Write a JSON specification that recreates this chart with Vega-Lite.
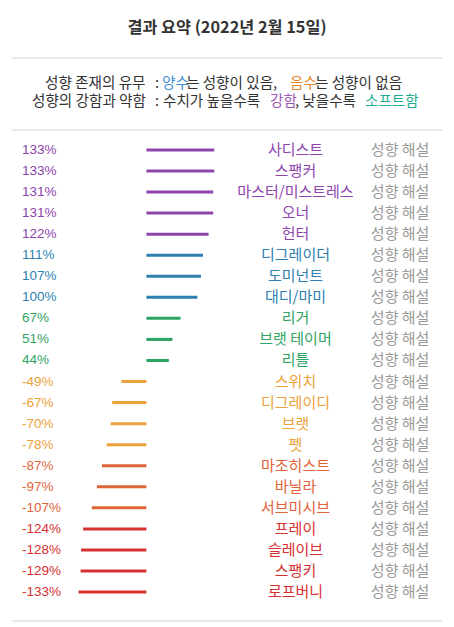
{
  "$schema": "https://vega.github.io/schema/vega-lite/v6.json",
  "padding": 0,
  "spacing": 0,
  "background": "white",
  "config": {"view": {"stroke": null}},
  "vconcat": [
    {
      "width": 454,
      "height": 131,
      "data": {"values": [{}]},
      "layer": [
        {
          "mark": {"type": "text", "text": "결과 요약 (2022년 2월 15일)", "font": "Noto Sans CJK KR", "fontSize": 16.3, "fontWeight": "bold", "color": "#333333", "align": "center", "baseline": "middle"},
          "encoding": {
            "x": {"datum": 227, "type": "quantitative", "scale": {"domain": [0, 454], "nice": false}, "axis": null},
            "y": {"datum": 28, "type": "quantitative", "scale": {"domain": [0, 131], "nice": false, "reverse": true}, "axis": null}
          }
        },
        {
          "mark": {"type": "rule", "color": "#e9e9e9", "strokeWidth": 2},
          "encoding": {
            "x": {"datum": 12, "type": "quantitative"},
            "x2": {"datum": 442},
            "y": {"datum": 58, "type": "quantitative"}
          }
        },
        {
          "mark": {"type": "text", "text": "성향 존재의 유무", "font": "Noto Sans CJK KR", "fontSize": 14.6, "color": "#333333", "align": "left", "baseline": "middle"},
          "encoding": {"x": {"datum": 45, "type": "quantitative"}, "y": {"datum": 84, "type": "quantitative"}}
        },
        {
          "mark": {"type": "text", "text": ":", "font": "Noto Sans CJK KR", "fontSize": 14.6, "color": "#333333", "align": "left", "baseline": "middle"},
          "encoding": {"x": {"datum": 155, "type": "quantitative"}, "y": {"datum": 84, "type": "quantitative"}}
        },
        {
          "mark": {"type": "text", "text": "양수", "font": "Noto Sans CJK KR", "fontSize": 14.6, "color": "#3f8fd2", "align": "left", "baseline": "middle"},
          "encoding": {"x": {"datum": 162, "type": "quantitative"}, "y": {"datum": 84, "type": "quantitative"}}
        },
        {
          "mark": {"type": "text", "text": "는 성향이 있음,", "font": "Noto Sans CJK KR", "fontSize": 14.6, "color": "#333333", "align": "left", "baseline": "middle"},
          "encoding": {"x": {"datum": 186, "type": "quantitative"}, "y": {"datum": 84, "type": "quantitative"}}
        },
        {
          "mark": {"type": "text", "text": "음수", "font": "Noto Sans CJK KR", "fontSize": 14.6, "color": "#e8892c", "align": "left", "baseline": "middle"},
          "encoding": {"x": {"datum": 290, "type": "quantitative"}, "y": {"datum": 84, "type": "quantitative"}}
        },
        {
          "mark": {"type": "text", "text": "는 성향이 없음", "font": "Noto Sans CJK KR", "fontSize": 14.6, "color": "#333333", "align": "left", "baseline": "middle"},
          "encoding": {"x": {"datum": 315, "type": "quantitative"}, "y": {"datum": 84, "type": "quantitative"}}
        },
        {
          "mark": {"type": "text", "text": "성향의 강함과 약함", "font": "Noto Sans CJK KR", "fontSize": 14.6, "color": "#333333", "align": "left", "baseline": "middle"},
          "encoding": {"x": {"datum": 32, "type": "quantitative"}, "y": {"datum": 101.5, "type": "quantitative"}}
        },
        {
          "mark": {"type": "text", "text": ":", "font": "Noto Sans CJK KR", "fontSize": 14.6, "color": "#333333", "align": "left", "baseline": "middle"},
          "encoding": {"x": {"datum": 155, "type": "quantitative"}, "y": {"datum": 101.5, "type": "quantitative"}}
        },
        {
          "mark": {"type": "text", "text": "수치가 높을수록", "font": "Noto Sans CJK KR", "fontSize": 14.6, "color": "#333333", "align": "left", "baseline": "middle"},
          "encoding": {"x": {"datum": 163, "type": "quantitative"}, "y": {"datum": 101.5, "type": "quantitative"}}
        },
        {
          "mark": {"type": "text", "text": "강함", "font": "Noto Sans CJK KR", "fontSize": 14.6, "color": "#9b59b6", "align": "left", "baseline": "middle"},
          "encoding": {"x": {"datum": 270, "type": "quantitative"}, "y": {"datum": 101.5, "type": "quantitative"}}
        },
        {
          "mark": {"type": "text", "text": ", 낮을수록", "font": "Noto Sans CJK KR", "fontSize": 14.6, "color": "#333333", "align": "left", "baseline": "middle"},
          "encoding": {"x": {"datum": 295, "type": "quantitative"}, "y": {"datum": 101.5, "type": "quantitative"}}
        },
        {
          "mark": {"type": "text", "text": "소프트함", "font": "Noto Sans CJK KR", "fontSize": 14.6, "color": "#1fae8f", "align": "left", "baseline": "middle"},
          "encoding": {"x": {"datum": 365, "type": "quantitative"}, "y": {"datum": 101.5, "type": "quantitative"}}
        },
        {
          "mark": {"type": "rule", "color": "#e9e9e9", "strokeWidth": 2},
          "encoding": {
            "x": {"datum": 12, "type": "quantitative"},
            "x2": {"datum": 442},
            "y": {"datum": 130, "type": "quantitative"}
          }
        }
      ]
    },
    {
      "width": 454,
      "height": 480,
      "data": {
        "values": [
          {"rank": 1, "name": "사디스트", "value": 133, "group": "g1"},
          {"rank": 2, "name": "스팽커", "value": 133, "group": "g1"},
          {"rank": 3, "name": "마스터/미스트레스", "value": 131, "group": "g1"},
          {"rank": 4, "name": "오너", "value": 131, "group": "g1"},
          {"rank": 5, "name": "헌터", "value": 122, "group": "g1"},
          {"rank": 6, "name": "디그레이더", "value": 111, "group": "g2"},
          {"rank": 7, "name": "도미넌트", "value": 107, "group": "g2"},
          {"rank": 8, "name": "대디/마미", "value": 100, "group": "g2"},
          {"rank": 9, "name": "리거", "value": 67, "group": "g3"},
          {"rank": 10, "name": "브랫 테이머", "value": 51, "group": "g3"},
          {"rank": 11, "name": "리틀", "value": 44, "group": "g3"},
          {"rank": 12, "name": "스위치", "value": -49, "group": "g4"},
          {"rank": 13, "name": "디그레이디", "value": -67, "group": "g4"},
          {"rank": 14, "name": "브랫", "value": -70, "group": "g4"},
          {"rank": 15, "name": "펫", "value": -78, "group": "g4"},
          {"rank": 16, "name": "마조히스트", "value": -87, "group": "g5"},
          {"rank": 17, "name": "바닐라", "value": -97, "group": "g5"},
          {"rank": 18, "name": "서브미시브", "value": -107, "group": "g5"},
          {"rank": 19, "name": "프레이", "value": -124, "group": "g6"},
          {"rank": 20, "name": "슬레이브", "value": -128, "group": "g6"},
          {"rank": 21, "name": "스팽키", "value": -129, "group": "g6"},
          {"rank": 22, "name": "로프버니", "value": -133, "group": "g6"}
        ]
      },
      "transform": [{"calculate": "datum.value + '%'", "as": "label"}],
      "encoding": {
        "y": {"field": "rank", "type": "ordinal", "axis": null, "scale": {"type": "point", "padding": 0.9}}
      },
      "layer": [
        {
          "mark": {"type": "rule", "strokeWidth": 3, "strokeCap": "butt"},
          "encoding": {
            "x": {"field": "value", "type": "quantitative", "scale": {"domain": [-287, 603], "nice": false, "zero": false}, "axis": null},
            "x2": {"datum": 0},
            "color": {"field": "group", "type": "nominal", "legend": null, "scale": {"domain": ["g1", "g2", "g3", "g4", "g5", "g6"], "range": ["#8e44ad", "#2d7fb0", "#2ea463", "#eba23a", "#e0643a", "#d63031"]}}
          }
        },
        {
          "mark": {"type": "text", "font": "Liberation Sans", "fontSize": 13.5, "align": "left", "baseline": "middle"},
          "encoding": {
            "x": {"datum": -244, "type": "quantitative"},
            "text": {"field": "label", "type": "nominal"},
            "color": {"field": "group", "type": "nominal", "legend": null}
          }
        },
        {
          "mark": {"type": "text", "font": "Noto Sans CJK KR", "fontSize": 15, "align": "center", "baseline": "middle"},
          "encoding": {
            "x": {"datum": 292.3, "type": "quantitative"},
            "text": {"field": "name", "type": "nominal"},
            "color": {"field": "group", "type": "nominal", "legend": null}
          }
        },
        {
          "mark": {"type": "text", "text": "성향 해설", "font": "Noto Sans CJK KR", "fontSize": 15, "align": "left", "baseline": "middle", "color": "#9a9a9a"},
          "encoding": {
            "x": {"datum": 440, "type": "quantitative"}
          }
        }
      ]
    },
    {
      "width": 454,
      "height": 16,
      "data": {"values": [{}]},
      "layer": [
        {
          "mark": {"type": "rule", "color": "#e9e9e9", "strokeWidth": 2},
          "encoding": {
            "x": {"datum": 12, "type": "quantitative", "scale": {"domain": [0, 454], "nice": false}, "axis": null},
            "x2": {"datum": 442},
            "y": {"datum": 10, "type": "quantitative", "scale": {"domain": [0, 16], "nice": false, "reverse": true}, "axis": null}
          }
        }
      ]
    }
  ]
}
